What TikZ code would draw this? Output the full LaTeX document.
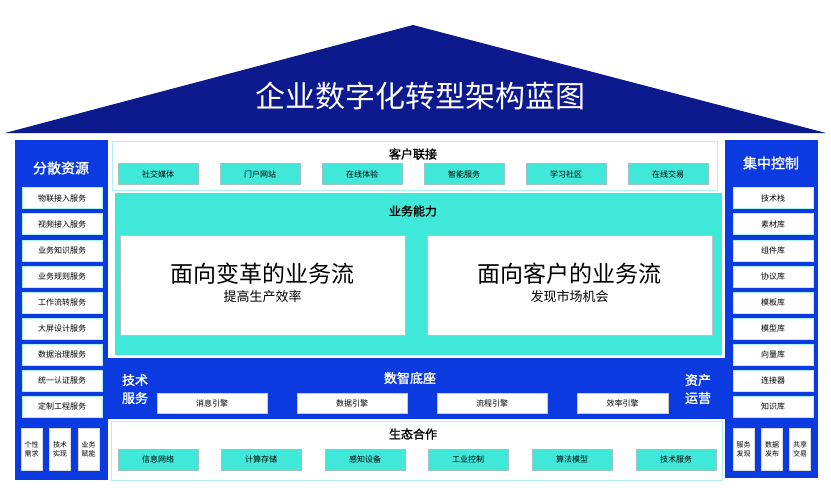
\documentclass[tikz,border=0pt]{standalone}
\usepackage{fontspec}
\setmainfont{Noto Sans CJK SC}
\newfontfamily\cjkb[FakeBold=1.5]{Noto Sans CJK SC}
\definecolor{navy}{HTML}{0C1A8E}
\definecolor{pblue}{HTML}{0B3BE0}
\definecolor{cyanf}{HTML}{40E8DA}
\definecolor{cyanl}{HTML}{B0F2EE}
\begin{document}
\begin{tikzpicture}[x=1pt,y=-1pt,
  wbox/.style={draw=cyanl,fill=white,inner sep=0pt,minimum width=80pt,minimum height=21pt,font=\fontsize{8}{9}\selectfont},
  cbox/.style={draw=cyanl!60!gray,fill=cyanf,inner sep=0pt,minimum width=80pt,minimum height=21pt,font=\fontsize{8}{9}\selectfont},
  ebox/.style={draw=gray!40,fill=white,inner sep=0pt,minimum width=110pt,minimum height=20pt,font=\fontsize{8}{9}\selectfont},
  sbox/.style={draw=gray!30,fill=white,inner sep=0pt,minimum width=21pt,minimum height=42pt,font=\fontsize{7}{9}\selectfont,align=center},
  ttl/.style={font=\cjkb\fontsize{14}{16}\selectfont,text=white,align=center},
  btl/.style={font=\cjkb\fontsize{12}{14}\selectfont}]
\useasboundingbox (0,0) rectangle (831,499);
\fill[white] (0,0) rectangle (831,499);
% roof
\fill[navy] (5,133) -- (413,25) -- (826,133) -- cycle;
\node[text=white,font=\fontsize{30}{32}\selectfont] (title) at (420,96) {企业数字化转型架构蓝图};
% side panels
\fill[pblue] (15,140) rectangle (108,480);
\fill[pblue] (725,140) rectangle (818,478);
\fill[pblue] (108,358) rectangle (725,419);
\node[ttl] (lt) at (61,168) {分散资源};
\node[ttl] (rt) at (771,163) {集中控制};
\foreach \t [count=\i] in {物联接入服务,视频接入服务,业务知识服务,业务规则服务,工作流转服务,大屏设计服务,数据治理服务,统一认证服务,定制工程服务}
  \node[wbox] (l\i) at (62,{198+26.1*(\i-1)}) {\t};
\foreach \t [count=\i] in {技术栈,素材库,组件库,协议库,模板库,模型库,向量库,连接器,知识库}
  \node[wbox] (r\i) at (773,{198+26.1*(\i-1)}) {\t};
\foreach \t/\x [count=\i] in {个性\\需求/31.5,技术\\实现/60,业务\\赋能/88.5}
  \node[sbox] (ls\i) at (\x,449) {\t};
\foreach \t/\x [count=\i] in {服务\\发现/743.5,数据\\发布/772,共享\\交易/800}
  \node[sbox] (rs\i) at (\x,449) {\t};
% customer
\draw[cyanl,fill=white] (112,141) rectangle (717,190);
\node[btl] (kh) at (413,154) {客户联接};
\foreach \t/\x [count=\i] in {社交媒体/158,门户网站/260,在线体验/362,智能服务/464,学习社区/566,在线交易/668}
  \node[cbox] (c\i) at (\x,174) {\t};
% business ability
\fill[cyanf] (115,193) rectangle (722,355);
\node[btl] (yw) at (413,211) {业务能力};
\node[draw=gray!50,fill=white,minimum width=285pt,minimum height=100pt,inner sep=0pt] (f1) at (262.5,285) {};
\node[draw=gray!50,fill=white,minimum width=285pt,minimum height=100pt,inner sep=0pt] (f2) at (569.5,285) {};
\node[font=\fontsize{23}{26}\selectfont] (f1a) at (262.5,274) {面向变革的业务流};
\node[font=\fontsize{13}{15}\selectfont] (f1b) at (262.5,297) {提高生产效率};
\node[font=\fontsize{23}{26}\selectfont] (f2a) at (569.5,274) {面向客户的业务流};
\node[font=\fontsize{13}{15}\selectfont] (f2b) at (569.5,297) {发现市场机会};
% data base band
\node[ttl,font=\cjkb\fontsize{13}{18}\selectfont] (js) at (135,389) {技术\\服务};
\node[ttl,font=\cjkb\fontsize{13}{18}\selectfont] (zc) at (698,389) {资产\\运营};
\node[ttl,font=\cjkb\fontsize{13}{15}\selectfont] (sz) at (410,378) {数智底座};
\foreach \t/\x [count=\i] in {消息引擎/212,数据引擎/352,流程引擎/492}
  \node[ebox] (e\i) at (\x,403) {\t};
\node[ebox,minimum width=91pt] (e4) at (622.5,403) {效率引擎};
% ecosystem
\draw[cyanl,fill=white] (111,421) rectangle (722,480);
\node[btl] (st) at (413,434) {生态合作};
\foreach \t/\x [count=\i] in {信息网络/158,计算存储/261,感知设备/365,工业控制/468,算法模型/572,技术服务/676}
  \node[cbox] (g\i) at (\x,459.5) {\t};
\end{tikzpicture}
\end{document}
